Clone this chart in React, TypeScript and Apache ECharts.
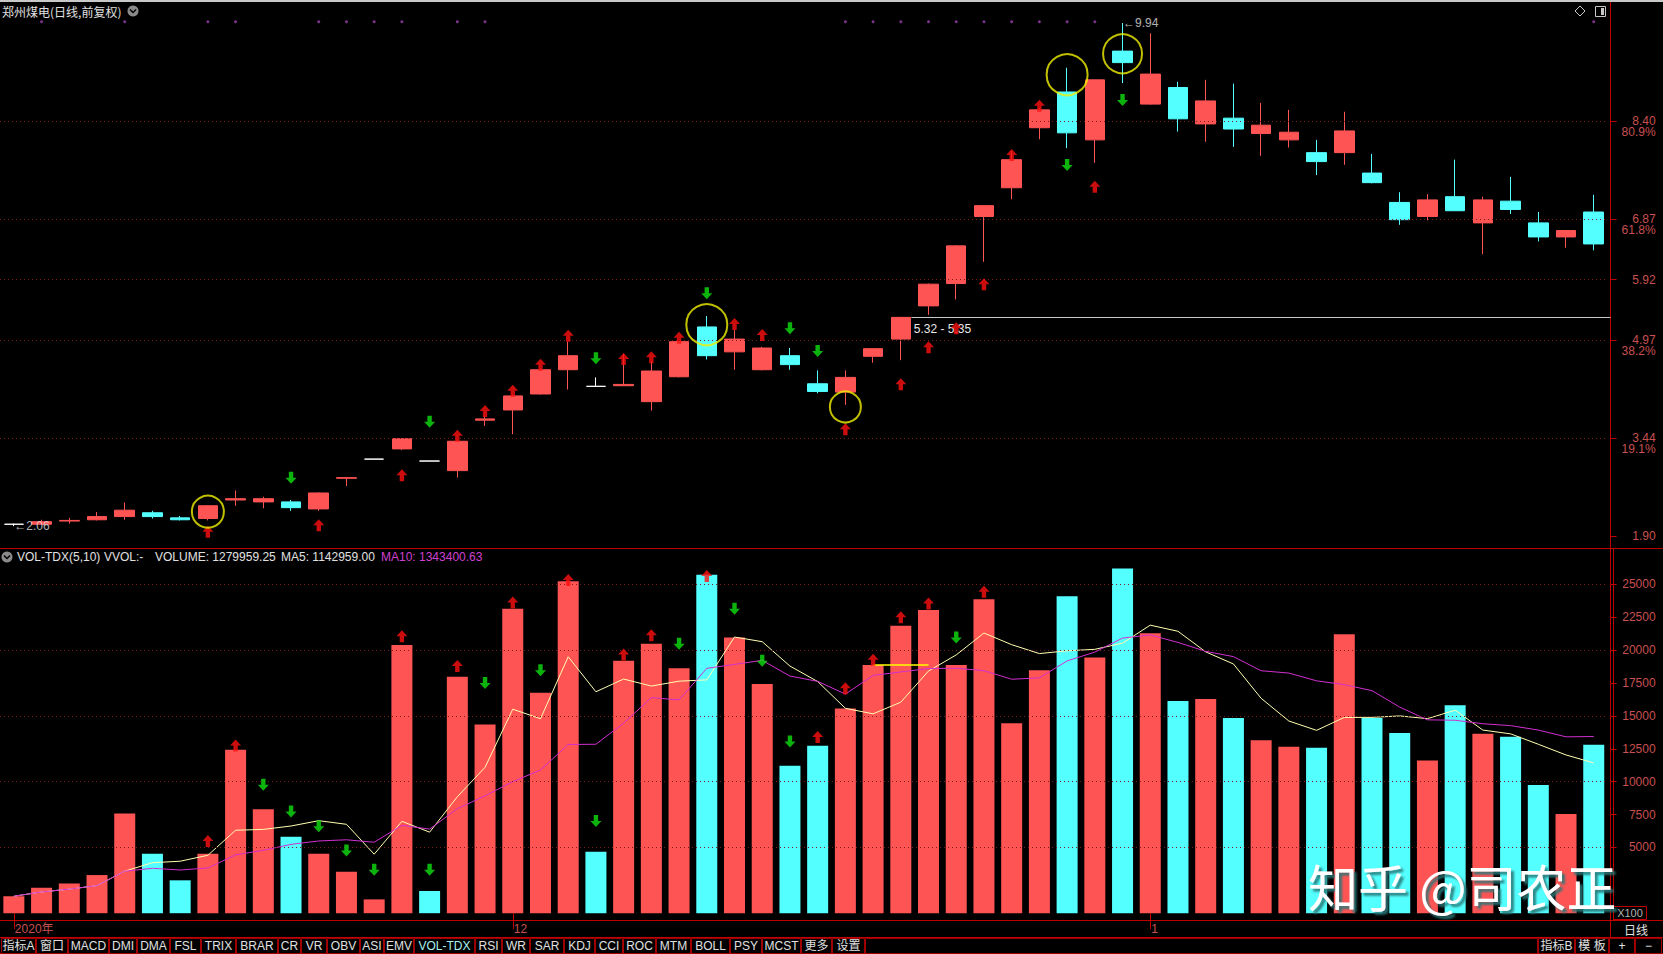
import React, { useEffect, useRef } from 'react';
import * as echarts from 'echarts';

// ---------------- data ----------------
const dates = [
  '2020-11-05','2020-11-06','2020-11-09','2020-11-10','2020-11-11','2020-11-12','2020-11-13','2020-11-16','2020-11-17','2020-11-18',
  '2020-11-19','2020-11-20','2020-11-23','2020-11-24','2020-11-25','2020-11-26','2020-11-27','2020-11-30',
  '2020-12-01','2020-12-02','2020-12-03','2020-12-04','2020-12-07','2020-12-08','2020-12-09','2020-12-10','2020-12-11','2020-12-14',
  '2020-12-15','2020-12-16','2020-12-17','2020-12-18','2020-12-21','2020-12-22','2020-12-23','2020-12-24','2020-12-25','2020-12-28',
  '2020-12-29','2020-12-30','2020-12-31',
  '2021-01-04','2021-01-05','2021-01-06','2021-01-07','2021-01-08','2021-01-11','2021-01-12','2021-01-13','2021-01-14','2021-01-15',
  '2021-01-18','2021-01-19','2021-01-20','2021-01-21','2021-01-22','2021-01-25','2021-01-26'
];
const opens = [2.09,2.09,2.14,2.16,2.21,2.27,2.19,2.18,2.47,2.44, 2.44,2.33,2.81,3.11,3.27,3.08,2.93,3.72,3.88,4.13,
  4.51,4.25,4.26,4.01,4.40,5.18,4.79,4.51,4.73,4.29, 4.16,4.72,4.99,5.51,5.86,6.91,7.36,8.30,8.86,8.11,
  9.50,8.67,8.93,8.36,8.45,8.21,8.11,7.91,7.91,7.59, 7.13,6.91,7.22,6.81,7.15,6.81,6.59,6.98];
const closes = [2.09,2.13,2.15,2.21,2.31,2.21,2.16,2.38,2.49,2.49, 2.35,2.58,2.82,3.11,3.43,3.08,3.39,3.74,4.10,4.51,
  4.73,4.25,4.28,4.49,4.95,4.73,4.99,4.85,4.59,4.17, 4.39,4.84,5.33,5.85,6.45,7.08,7.80,8.58,8.22,9.05,
  9.32,9.14,8.44,8.72,8.28,8.34,8.23,7.77,8.25,7.44, 6.86,7.17,7.00,7.17,7.02,6.59,6.69,6.48];
const lows = [2.06,2.08,2.10,2.15,2.16,2.18,2.15,2.15,2.38,2.34, 2.30,2.30,2.69,3.11,3.25,3.08,2.82,3.63,3.50,4.12,
  4.20,4.25,4.26,3.87,4.39,4.67,4.51,4.50,4.51,4.14, 3.96,4.62,4.66,5.37,5.61,6.20,7.18,8.12,7.98,7.75,
  9.00,8.66,8.24,8.08,8.00,7.86,7.99,7.56,7.72,7.43, 6.78,6.85,7.00,6.32,6.95,6.52,6.42,6.38];
const highs = [2.10,2.16,2.19,2.28,2.43,2.30,2.22,2.39,2.62,2.52, 2.47,2.59,2.83,3.11,3.43,3.08,3.40,3.78,4.11,4.53,
  4.95,4.39,4.76,4.64,4.96,5.35,5.13,4.87,4.85,4.50, 4.50,4.84,5.33,5.86,6.46,7.09,7.93,8.61,9.24,9.05,
  9.94,9.78,9.02,9.05,8.99,8.69,8.58,8.11,8.55,7.89, 7.29,7.26,7.80,7.22,7.53,6.98,6.70,7.25];
// volume in units of 100
const volumes = [1290,1940,2260,2900,7580,4520,2500,4520,12420,7900, 5810,4520,3150,1050,20400,1690,17980,14350,23150,16770,
  25240,4680,19190,20480,18630,25730,20970,17420,11210,12740, 15560,18870,21850,23060,18870,23870,14440,18470,24110,19440,
  26210,21290,16130,16290,14840,13150,12660,12580,21210,14850, 13710,11610,15810,13640,13420,9750,7540,12800];

// price axis: golden-section levels between low 1.90 and high 9.94
const priceTicks = [1.90, 3.44, 4.97, 5.92, 6.87, 8.40];
const priceTickPct = ['', '19.1%', '38.2%', '', '61.8%', '80.9%'];
const priceGridLines = [3.44, 4.97, 5.92, 6.87, 8.40];
const volTicks = [5000, 7500, 10000, 12500, 15000, 17500, 20000, 22500, 25000];
const volGridLines = [5000, 10000, 15000, 20000, 25000];

// signal arrows [index, level]
const upArrowsPrice = [[7,1.974],[11,2.074],[14,2.857],[16,3.477],[17,3.864],[18,4.182],[19,4.589],[20,5.043],[22,4.678],[23,4.705],
  [24,5.012],[26,5.227],[27,5.054],[30,3.577],[32,4.282],[33,4.862],[34,5.159],[35,5.848],[36,7.873],[37,8.645],[39,7.377]];
const downArrowsPrice = [[10,2.819],[15,3.696],[21,4.689],[25,5.707],[28,5.159],[29,4.804],[38,7.717],[40,8.735]];
const upArrowsVol = [[7,5490],[8,12750],[14,21050],[16,18800],[18,23630],[20,25340],[22,19680],[23,21130],[25,25640],[29,13400],
  [30,17100],[31,19280],[32,22500],[33,23550],[35,24440]];
const downArrowsVol = [[9,9760],[10,7740],[11,6620],[12,4760],[13,3310],[15,3310],[17,17510],[19,18470],[21,7010],[24,20490],
  [26,23150],[27,19200],[28,13060],[34,20970]];
// yellow circles [index, price, diameter]
const circles = [[7,2.287,32],[25,5.216,41],[30,3.927,31],[38,9.131,41],[40,9.458,39]];
// purple info dots
const infoDotIdx = [1,4,7,8,11,12,13,14,16,17,30,31,32,33,34,35,36,37,38,39,57];
const infoDotLevel = 9.96;
// extreme labels
const extremes = [[0, 2.06], [40, 9.94]];
const extremeText = ['←2.06', '←9.94'];
// drawn line 5.32 - 5.35
const rangeLine = { from: 32, level: 5.33, text: '5.32 - 5.35' };
const volLevelLine = { from: 31, to: 33, level: 18870 };

const leftButtons = ['指标A','窗口','MACD','DMI','DMA','FSL','TRIX','BRAR','CR','VR','OBV','ASI','EMV','VOL-TDX','RSI','WR','SAR','KDJ','CCI','ROC','MTM','BOLL','PSY','MCST','更多','设置'];
const leftEdges = [1,36,68,109,137,170,201,236,278,301,327,360,384,414,475,502,530,564,595,623,656,691,730,762,801,832,865];
const rightButtons = ['指标B','模 板','+','−'];
const rightEdges = [1538,1575,1609,1635,1662];

const UP = '#ff5454';
const DOWN = '#54ffff';
const LINE_RED = '#c00000';
const LABEL_RED = '#c85050';
const GRID_DOT = '#7a1c1c';
const FONT = '"Liberation Sans", "Noto Sans CJK SC", sans-serif';

function movingAverage(arr: number[], n: number) {
  return arr.map((_, i) => {
    const s = arr.slice(Math.max(0, i - n + 1), i + 1);
    return +(s.reduce((a, b) => a + b, 0) / s.length).toFixed(2);
  });
}

export default function App() {
  const ref = useRef<HTMLDivElement>(null);
  useEffect(() => {
    document.body.style.margin = '0';
    document.body.style.background = '#000';
    const chart = echarts.init(ref.current!, null, { renderer: 'svg' });

    const candleData = dates.map((_, i) => {
      const item: any = { value: [opens[i], closes[i], lows[i], highs[i]] };
      if (opens[i] === closes[i]) {
        item.itemStyle = { color: '#ffffff', color0: '#ffffff', borderColor: '#ffffff', borderColor0: '#ffffff' };
      }
      return item;
    });
    const isUp = dates.map((_, i) => {
      if (closes[i] > opens[i]) return true;
      if (closes[i] < opens[i]) return false;
      return i === 0 ? true : closes[i] >= closes[i - 1];
    });
    const volData = volumes.map((v, i) => ({ value: v, itemStyle: { color: isUp[i] ? UP : DOWN } }));
    const ma5 = movingAverage(volumes, 5);
    const ma10 = movingAverage(volumes, 10);

    const monthStart = (i: number) => i === 0 || dates[i].slice(5, 7) !== dates[i - 1].slice(5, 7);

    const upPath = 'path://M5,0 L10,5.5 L7,5.5 L7,11 L3,11 L3,5.5 L0,5.5 Z';
    const downPath = 'path://M3,0 L7,0 L7,5.5 L10,5.5 L5,11 L0,5.5 L3,5.5 Z';

    const gridLeft = -2.5;
    const gridW = 1610.1;
    const axisX = 1610.5;

    const graphics: any[] = [];
    const hline = (y: number, x1: number, x2: number, color = LINE_RED) =>
      graphics.push({ type: 'line', silent: true, shape: { x1, y1: y, x2, y2: y }, style: { stroke: color, lineWidth: 1 } });
    const vline = (x: number, y1: number, y2: number, color = LINE_RED) =>
      graphics.push({ type: 'line', silent: true, shape: { x1: x, y1, x2: x, y2 }, style: { stroke: color, lineWidth: 1 } });

    graphics.push({ type: 'rect', silent: true, shape: { x: 0, y: 0, width: 1663, height: 2 }, style: { fill: '#c8c8c8' } });
    hline(548.5, 0, 1663);
    hline(920.5, 0, 1663);
    hline(937.5, 0, 1663);
    hline(953.5, 0, 1663);
    vline(axisX, 2, 937.5);
    vline(1613.5, 548.5, 920.5);
    // title
    graphics.push({ type: 'text', silent: true, style: { text: '郑州煤电(日线,前复权)', x: 2, y: 11, textVerticalAlign: 'middle', fill: '#e0e0e0', font: '12px "Noto Sans CJK SC", sans-serif' } });
    graphics.push({ type: 'circle', silent: true, shape: { cx: 133, cy: 11, r: 5.5 }, style: { fill: '#8a8a8a' } });
    graphics.push({ type: 'polyline', silent: true, shape: { points: [[130, 9.5], [133, 12.5], [136, 9.5]] }, style: { stroke: '#000', lineWidth: 1.5, fill: null } });
    // top-right icons
    graphics.push({ type: 'polygon', silent: true, shape: { points: [[1580, 6], [1585, 11], [1580, 16], [1575, 11]] }, style: { stroke: '#c8c8c8', fill: null, lineWidth: 1 } });
    graphics.push({ type: 'rect', silent: true, shape: { x: 1595.5, y: 6.5, width: 10, height: 10 }, style: { stroke: '#c8c8c8', fill: null, lineWidth: 1 } });
    graphics.push({ type: 'rect', silent: true, shape: { x: 1601, y: 8, width: 3, height: 7 }, style: { fill: '#c8c8c8' } });
    // volume header
    graphics.push({ type: 'circle', silent: true, shape: { cx: 7, cy: 557, r: 5.5 }, style: { fill: '#8a8a8a' } });
    graphics.push({ type: 'polyline', silent: true, shape: { points: [[4, 555.5], [7, 558.5], [10, 555.5]] }, style: { stroke: '#000', lineWidth: 1.5, fill: null } });
    const headerParts: [string, number, string][] = [
      ['VOL-TDX(5,10)', 17, '#e0e0e0'],
      ['VVOL:-', 104, '#e0e0e0'],
      ['VOLUME: 1279959.25', 155, '#e0e0e0'],
      ['MA5: 1142959.00', 281, '#e0e0e0'],
      ['MA10: 1343400.63', 381, '#d040d0'],
    ];
    headerParts.forEach(([t, x, c]) => graphics.push({ type: 'text', silent: true, style: { text: t, x, y: 557, textVerticalAlign: 'middle', fill: c, font: '12px ' + FONT } }));
    // X100 box and 日线
    graphics.push({ type: 'rect', silent: true, shape: { x: 1613.5, y: 906.5, width: 33, height: 13 }, style: { stroke: LINE_RED, fill: null, lineWidth: 1 } });
    graphics.push({ type: 'text', silent: true, style: { text: 'X100', x: 1630, y: 913, textAlign: 'center', textVerticalAlign: 'middle', fill: '#b0b0b0', font: '11px ' + FONT } });
    graphics.push({ type: 'text', silent: true, style: { text: '日线', x: 1636, y: 929, textAlign: 'center', textVerticalAlign: 'middle', fill: '#e0e0e0', font: '12px "Noto Sans CJK SC", sans-serif' } });
    // toolbar
    const addButtons = (labels: string[], edges: number[]) => {
      labels.forEach((lab, i) => {
        const x0 = edges[i], x1 = edges[i + 1];
        graphics.push({ type: 'rect', silent: true, shape: { x: x0 + 0.5, y: 938.5, width: x1 - x0 - 1, height: 15 }, style: { stroke: '#a00000', fill: '#000', lineWidth: 1 } });
        graphics.push({ type: 'text', silent: true, style: { text: lab, x: (x0 + x1) / 2, y: 946, textAlign: 'center', textVerticalAlign: 'middle', fill: lab === 'VOL-TDX' ? '#a8f0f0' : '#e0e0e0', font: '12px ' + FONT } });
      });
    };
    addButtons(leftButtons, leftEdges);
    addButtons(rightButtons, rightEdges);
    graphics.push({ type: 'rect', silent: true, shape: { x: 865.5, y: 938.5, width: 672, height: 15 }, style: { stroke: '#a00000', fill: null, lineWidth: 1 } });
    // watermark
    graphics.push({ type: 'text', silent: true, z: 100, style: { text: '知乎 @司农正', x: 1308, y: 885, textVerticalAlign: 'middle', fill: '#ffffff', font: '50px "Noto Sans CJK SC", sans-serif', textShadowColor: 'rgba(40,120,120,0.9)', textShadowOffsetX: 3, textShadowOffsetY: 3, textShadowBlur: 2 } });

    const option: any = {
      animation: false,
      backgroundColor: '#000',
      grid: [
        { left: gridLeft, width: gridW, top: 4, height: 544 },
        { left: gridLeft, width: gridW, top: 564.7, height: 348.5 },
      ],
      xAxis: [
        { type: 'category', gridIndex: 0, data: dates, boundaryGap: true, show: false },
        {
          type: 'category', gridIndex: 1, data: dates, boundaryGap: true, offset: 8,
          axisLine: { show: false },
          axisTick: { show: true, alignWithLabel: true, interval: (i: number) => monthStart(i), length: 16, lineStyle: { color: LINE_RED } },
          axisLabel: {
            interval: (i: number) => monthStart(i), align: 'left', margin: 2, padding: [0, 0, 0, 1],
            color: LABEL_RED, fontSize: 12, fontFamily: FONT,
            formatter: (v: string, i: number) => (i === 0 ? v.slice(0, 4) + '年' : String(Number(v.slice(5, 7)))),
          },
          splitLine: { show: false },
        },
      ],
      yAxis: [
        {
          type: 'value', gridIndex: 0, position: 'right', offset: 3, min: 1.718, max: 10.238, scale: true,
          axisLine: { show: false },
          axisTick: { show: true, customValues: priceTicks, length: 6, lineStyle: { color: LINE_RED } },
          axisLabel: {
            customValues: priceTicks, align: 'right', margin: 45, color: LABEL_RED, fontSize: 12, fontFamily: FONT, lineHeight: 11,
            formatter: (v: number) => {
              const i = priceTicks.findIndex((t) => Math.abs(t - v) < 1e-6);
              const pct = i >= 0 ? priceTickPct[i] : '';
              return pct ? `\n${v.toFixed(2)}\n${pct}` : v.toFixed(2);
            },
          },
          splitLine: { show: false },
        },
        {
          type: 'value', gridIndex: 1, position: 'right', offset: 3, min: 0, max: 26500,
          axisLine: { show: false },
          axisTick: { show: true, customValues: volTicks, length: 6, lineStyle: { color: LINE_RED } },
          axisLabel: { customValues: volTicks, align: 'right', margin: 45, color: LABEL_RED, fontSize: 12, fontFamily: FONT, formatter: (v: number) => String(v) },
          splitLine: { show: false },
        },
      ],
      series: [
        {
          type: 'candlestick', xAxisIndex: 0, yAxisIndex: 0, data: candleData, barWidth: 20, silent: true,
          itemStyle: { color: UP, color0: DOWN, borderColor: UP, borderColor0: DOWN, borderWidth: 1 },
          markLine: {
            silent: true, symbol: ['none', 'none'], animation: false,
            label: { show: false },
            lineStyle: { color: GRID_DOT, type: [1, 3], width: 1 },
            data: priceGridLines.map((v) => ({ yAxis: v })),
          },
        },
        {
          type: 'scatter', xAxisIndex: 0, yAxisIndex: 0, silent: true, symbol: 'circle', symbolSize: 3,
          itemStyle: { color: '#9a40b0' }, data: infoDotIdx.map((i) => [i, infoDotLevel]),
        },
        {
          type: 'scatter', xAxisIndex: 0, yAxisIndex: 0, silent: true, symbol: upPath, symbolSize: [11, 12],
          itemStyle: { color: '#ff1010' }, data: upArrowsPrice, z: 5,
        },
        {
          type: 'scatter', xAxisIndex: 0, yAxisIndex: 0, silent: true, symbol: downPath, symbolSize: [11, 12],
          itemStyle: { color: '#10e010' }, data: downArrowsPrice, z: 5,
        },
        {
          type: 'scatter', xAxisIndex: 0, yAxisIndex: 0, silent: true, symbol: 'circle',
          symbolSize: (v: number[]) => v[2],
          itemStyle: { color: 'rgba(0,0,0,0)', borderColor: '#f0f000', borderWidth: 2 }, data: circles, z: 6,
        },
        {
          type: 'scatter', xAxisIndex: 0, yAxisIndex: 0, silent: true, symbolSize: 1,
          itemStyle: { color: 'rgba(0,0,0,0)' }, data: extremes, z: 6,
          label: { show: true, position: 'right', distance: 0, color: '#e0e0e0', fontSize: 12, fontFamily: FONT,
            formatter: (p: any) => extremeText[p.dataIndex] },
        },
        {
          type: 'bar', xAxisIndex: 1, yAxisIndex: 1, data: volData, barWidth: 21, silent: true,
          markLine: {
            silent: true, symbol: ['none', 'none'], animation: false, label: { show: false },
            lineStyle: { color: GRID_DOT, type: [1, 3], width: 1 },
            data: [
              ...volGridLines.map((v) => ({ yAxis: v })),
              [
                { coord: [volLevelLine.from, volLevelLine.level], lineStyle: { color: '#ffff00', type: 'solid', width: 1.5 } },
                { coord: [volLevelLine.to, volLevelLine.level], lineStyle: { color: '#ffff00', type: 'solid', width: 1.5 } },
              ],
            ],
          },
        },
        {
          type: 'line', xAxisIndex: 1, yAxisIndex: 1, data: ma5, symbol: 'none', silent: true,
          lineStyle: { color: '#ffffb0', width: 1 }, z: 4,
        },
        {
          type: 'line', xAxisIndex: 1, yAxisIndex: 1, data: ma10, symbol: 'none', silent: true,
          lineStyle: { color: '#d030d0', width: 1 }, z: 4,
        },
        {
          type: 'scatter', xAxisIndex: 1, yAxisIndex: 1, silent: true, symbol: upPath, symbolSize: [11, 12],
          itemStyle: { color: '#ff1010' }, data: upArrowsVol, z: 5,
        },
        {
          type: 'scatter', xAxisIndex: 1, yAxisIndex: 1, silent: true, symbol: downPath, symbolSize: [11, 12],
          itemStyle: { color: '#10e010' }, data: downArrowsVol, z: 5,
        },
      ],
      graphic: graphics,
    };
    chart.setOption(option);

    // the drawn price line "5.32 - 5.35": from the candle's body edge to the price axis
    const p = chart.convertToPixel({ gridIndex: 0 }, [rangeLine.from, rangeLine.level]) as number[];
    if (p && isFinite(p[0]) && isFinite(p[1])) {
      const y = Math.round(p[1]) + 0.5;
      graphics.push({ type: 'line', silent: true, z: 3, shape: { x1: p[0] + 10.5, y1: y, x2: axisX, y2: y }, style: { stroke: '#c8c8c8', lineWidth: 1 } });
      graphics.push({ type: 'text', silent: true, z: 3, style: { text: rangeLine.text, x: p[0] + 13, y: y + 11, textVerticalAlign: 'middle', fill: '#e8e8e8', font: '12px ' + FONT } });
      chart.setOption({ graphic: graphics });
    }
    return () => chart.dispose();
  }, []);
  return <div ref={ref} style={{ width: 1663, height: 954, background: '#000' }} />;
}
